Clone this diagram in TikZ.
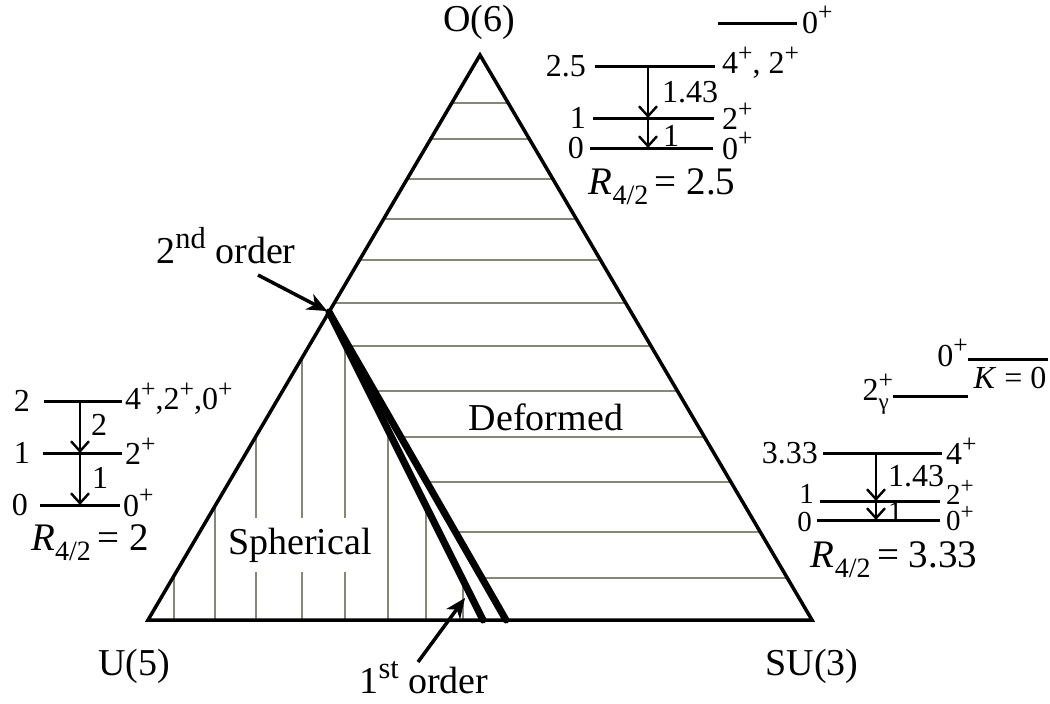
\documentclass[tikz,border=0pt]{standalone}
\usepackage{fontspec}
\setmainfont{Liberation Serif}
\usetikzlibrary{arrows.meta}
\definecolor{hatchgray}{RGB}{135,135,120}
\newcommand\myup[1]{\raisebox{0.38em}{\scalebox{0.8}{#1}}}
\newcommand\mydown[1]{\raisebox{-0.28em}{\scalebox{0.72}{#1}}}
\newcommand\rsub[2]{\textit{R}\raisebox{-10pt}{\fontsize{28}{28}\selectfont 4/2}\,= #2}
\begin{document}
\begin{tikzpicture}[x=1pt,y=-1pt,
  big/.style={font=\fontsize{38}{40}\selectfont, inner sep=0pt},
  lbl/.style={font=\fontsize{32}{34}\selectfont, inner sep=0pt},
  slbl/.style={font=\fontsize{29}{30}\selectfont, inner sep=0pt},
  rlbl/.style={font=\fontsize{39}{40}\selectfont, inner sep=0pt},
  tri/.style={line width=3.5pt, line join=miter},
  hatch/.style={line width=2pt, draw=hatchgray},
  boundary/.style={line width=7pt, line cap=round},
  lvl/.style={line width=3pt},
  trans/.style={line width=2.2pt, -{Straight Barb[length=10pt,width=18pt,line width=2.4pt]}},
  bigarrow/.style={line width=3.5pt, -{Stealth[length=20pt,width=17pt,inset=6pt]}}
]
\useasboundingbox (0,0) rectangle (1050,704);
% triangle corners
\coordinate (A) at (480,55);
\coordinate (L) at (148,620);
\coordinate (R) at (812,620);
\coordinate (P) at (329,312);
\coordinate (B1) at (483,620);
\coordinate (B2) at (506,620);
% horizontal hatching (deformed)
\foreach \yy in {103,139,179,219,260,303} {
  \pgfmathsetmacro\xl{480-(\yy-55)*0.58761}
  \pgfmathsetmacro\xr{480+(\yy-55)*0.58761}
  \draw[hatch] (\xl,\yy) -- (\xr,\yy);
}
\foreach \yy in {346,391,437,482,532,578} {
  \pgfmathsetmacro\xl{329+(\yy-312)*0.5747}
  \pgfmathsetmacro\xr{480+(\yy-55)*0.58761}
  \draw[hatch] (\xl,\yy) -- (\xr,\yy);
}
% vertical hatching (spherical)
\foreach \xx in {174,215,256,302} {
  \pgfmathsetmacro\yt{620-(\xx-148)*1.70181}
  \draw[hatch] (\xx,620) -- (\xx,\yt);
}
\foreach \xx in {345,388,426,463} {
  \pgfmathsetmacro\yt{312+(\xx-329)*2}
  \draw[hatch] (\xx,620) -- (\xx,\yt);
}
\node[big, fill=white, inner xsep=6pt, inner ysep=10pt] (sph) at (300,545) {Spherical};
\node[big] (def) at (546,417) {Deformed};
% triangle
\draw[tri] (L) -- (A) -- (R) -- cycle;
\draw[boundary] (P) -- (B1);
\draw[boundary] (P) -- (B2);
% vertex labels
\node[big] (o6) at (479,22) {O(6)};
\node[big] (u5) at (134,666) {U(5)};
\node[big] (su3) at (812,666) {SU(3)};
% order arrows
\node[big, anchor=base] (o2) at (226,263) {2\myup{nd} order};
\coordinate (o2s) at (258,275);
\draw[bigarrow, shorten >=2pt] (o2s) -- (P);
\node[big, anchor=base] (o1) at (424,693) {1\myup{st} order};
\coordinate (o1s) at (418,662);
\coordinate (o1t) at (465,598);
\draw[bigarrow] (o1s) -- (o1t);

% ---- O(6) level scheme
\coordinate (a0l) at (718,23);  \coordinate (a0r) at (797,23);
\coordinate (a1l) at (595,66);  \coordinate (a1r) at (715,66);
\coordinate (a2l) at (593,118); \coordinate (a2r) at (714,118);
\coordinate (a3l) at (590,148); \coordinate (a3r) at (713,148);
\draw[lvl] (a0l) -- (a0r);
\draw[lvl] (a1l) -- (a1r);
\draw[lvl] (a2l) -- (a2r);
\draw[lvl] (a3l) -- (a3r);
\node[lbl, anchor=west] (a0t) at (802,20) {0\myup{+}};
\node[lbl, anchor=east] (a1e) at (586,66) {2.5};
\node[lbl, anchor=west] (a1t) at (722,63) {4\myup{+}, 2\myup{+}};
\node[lbl, anchor=east] (a2e) at (586,118) {1};
\node[lbl, anchor=west] (a2t) at (722,116) {2\myup{+}};
\node[lbl, anchor=east] (a3e) at (584,148) {0};
\node[lbl, anchor=west] (a3t) at (722,146) {0\myup{+}};
\coordinate (at1) at (648,66); \coordinate (at2) at (648,118); \coordinate (at3) at (648,148);
\draw[trans] (at1) -- (at2);
\draw[trans] (at2) -- (at3);
\node[lbl, anchor=west] (ab1) at (662,92) {1.43};
\node[lbl, anchor=west] (ab2) at (663,136) {1};
\node[rlbl] (ar) at (662,187) {\rsub{R}{2.5}};

% ---- SU(3) level scheme
\coordinate (s0l) at (968,359); \coordinate (s0r) at (1048,359);
\coordinate (sgl) at (893,396); \coordinate (sgr) at (968,396);
\coordinate (s1l) at (823,453); \coordinate (s1r) at (942,453);
\coordinate (s2l) at (820,501); \coordinate (s2r) at (940,501);
\coordinate (s3l) at (817,520); \coordinate (s3r) at (940,520);
\draw[lvl] (s0l) -- (s0r);
\draw[lvl] (sgl) -- (sgr);
\draw[lvl] (s1l) -- (s1r);
\draw[lvl] (s2l) -- (s2r);
\draw[lvl] (s3l) -- (s3r);
\node[lbl, anchor=east] (s0t) at (968,353) {0\myup{+}};
\node[lbl] (s0k) at (1010,378) {\textit{K} = 0};
\node[lbl, anchor=east] (sgt) at (889,394) {2\rlap{\myup{+}}\mydown{γ}\hspace{3pt}};
\node[lbl, anchor=east] (s1e) at (818,453) {3.33};
\node[lbl, anchor=west] (s1t) at (946,451) {4\myup{+}};
\node[slbl, anchor=east] (s2e) at (814,494) {1};
\node[slbl, anchor=west] (s2t) at (946,492) {2\myup{+}};
\node[slbl, anchor=east] (s3e) at (812,522) {0};
\node[slbl, anchor=west] (s3t) at (946,519) {0\myup{+}};
\coordinate (st1) at (876,453); \coordinate (st2) at (876,501); \coordinate (st3) at (876,520);
\draw[trans] (st1) -- (st2);
\draw[trans] (st2) -- (st3);
\node[lbl, anchor=west] (sb1) at (888,476) {1.43};
\node[slbl, anchor=west] (sb2) at (888,512) {1};
\node[rlbl] (sr) at (894,560) {\rsub{R}{3.33}};

% ---- U(5) level scheme
\coordinate (u1l) at (44,401);  \coordinate (u1r) at (122,401);
\coordinate (u2l) at (43,453);  \coordinate (u2r) at (122,453);
\coordinate (u3l) at (40,505);  \coordinate (u3r) at (120,505);
\draw[lvl] (u1l) -- (u1r);
\draw[lvl] (u2l) -- (u2r);
\draw[lvl] (u3l) -- (u3r);
\node[lbl, anchor=east] (u1e) at (30,401) {2};
\node[lbl, anchor=west] (u1t) at (125,399) {4\myup{+},2\myup{+},0\myup{+}};
\node[lbl, anchor=east] (u2e) at (30,453) {1};
\node[lbl, anchor=west] (u2t) at (125,451) {2\myup{+}};
\node[lbl, anchor=east] (u3e) at (28,505) {0};
\node[lbl, anchor=west] (u3t) at (123,503) {0\myup{+}};
\coordinate (ut1) at (80,401); \coordinate (ut2) at (80,453); \coordinate (ut3) at (80,505);
\draw[trans] (ut1) -- (ut2);
\draw[trans] (ut2) -- (ut3);
\node[lbl, anchor=west] (ub1) at (91,425) {2};
\node[lbl, anchor=west] (ub2) at (92,478) {1};
\node[rlbl] (ur) at (90,543) {\rsub{R}{2}};
\end{tikzpicture}
\end{document}
